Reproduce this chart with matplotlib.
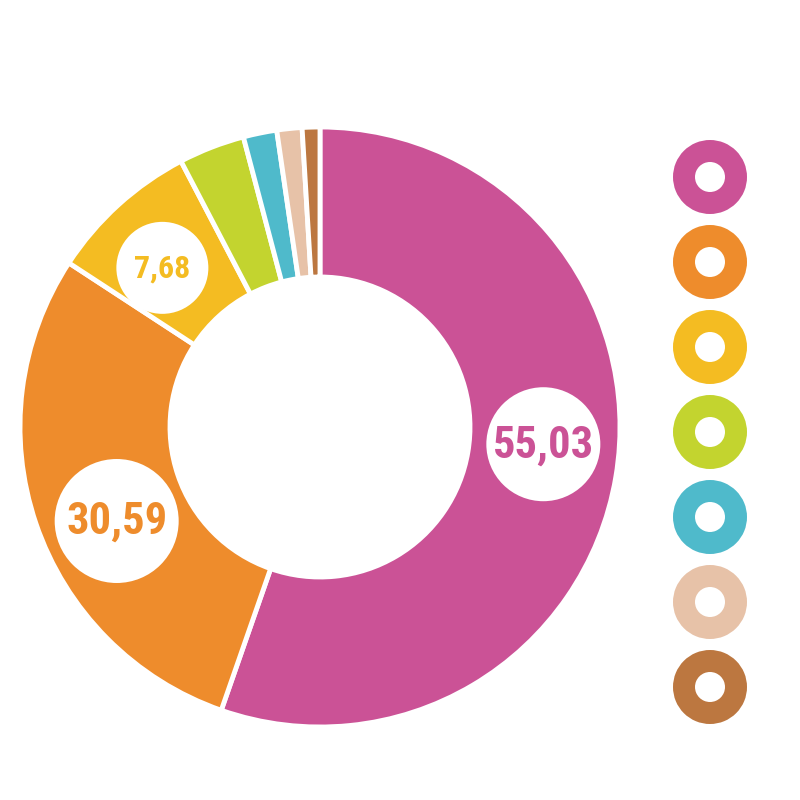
import matplotlib.pyplot as plt
import matplotlib.patches as patches
import numpy as np

# Slice shares as drawn (percent), clockwise from 12 o'clock
values = [55.2, 28.8, 8.1, 3.55, 1.8, 1.35, 0.95]
labels = ['55,03', '30,59', '7,68', '', '', '', '']
colors = ['#CB5296', '#EE8C2C', '#F4BC22', '#C3D42F', '#4FBACB', '#E7C2A8', '#BC7740']

BG = 'white'
CX, CY = 320, 800 - 427
R_OUT, R_IN = 300, 150

fig = plt.figure(figsize=(8, 8), dpi=100)
fig.patch.set_facecolor(BG)
ax = fig.add_axes([0, 0, 1, 1])
ax.set_facecolor(BG)

wedges, _ = ax.pie(values, colors=colors, startangle=90, counterclock=False,
                   center=(CX, CY), radius=R_OUT, frame=True,
                   wedgeprops=dict(width=R_OUT - R_IN, edgecolor=BG, linewidth=3.5))

# value badges sitting on the ring: (radius, fontsize, angle nudge)
badge = {'55,03': (57, 32, 5.2), '30,59': (62, 32, 6.0), '7,68': (46, 23, 2.5)}
label_r = 224
for w, lab, col in zip(wedges, labels, colors):
    if not lab:
        continue
    r, fs, nudge = badge[lab]
    mid = np.deg2rad((w.theta1 + w.theta2) / 2 + nudge)
    x = CX + label_r * np.cos(mid)
    y = CY + label_r * np.sin(mid)
    ax.add_patch(patches.Circle((x, y), r, facecolor='white', edgecolor='none', zorder=3))
    ax.text(x, y - 1, lab, color=col, fontsize=fs, fontweight='bold',
            family=['Roboto Condensed', 'Roboto', 'DejaVu Sans'],
            ha='center', va='center', zorder=4)

# legend rings
for i, col in enumerate(colors):
    y = 800 - (177 + i * 85)
    ax.add_patch(patches.Wedge((710, y), 37, 0, 360, width=22, facecolor=col,
                               edgecolor='none'))

ax.set_xlim(0, 800)
ax.set_ylim(0, 800)
ax.set_aspect('equal')
ax.axis('off')

fig.savefig('out.png', dpi=100, facecolor=BG)
